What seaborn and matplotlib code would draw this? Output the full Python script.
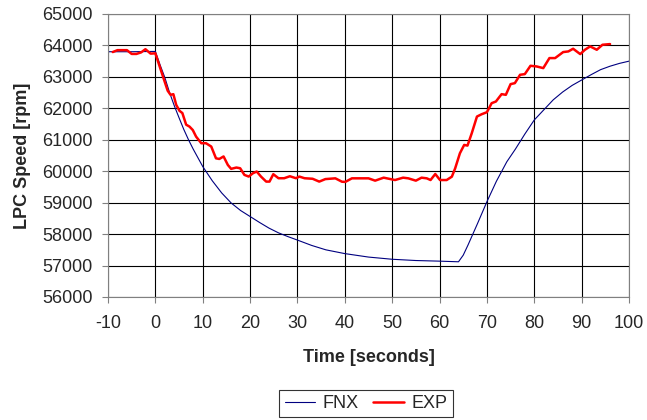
import numpy as np
import pandas as pd
import matplotlib
matplotlib.use("Agg")
import matplotlib.pyplot as plt
import seaborn as sns
from matplotlib.lines import Line2D

# FNX model (smooth curve)
fnx_t = [-10, -5, 0, 1, 2, 3, 4, 5, 6, 7, 8, 10, 12, 14, 16, 18, 20, 22, 24, 26, 28,
         30, 33, 36, 40, 45, 50, 55, 60, 64, 65, 66, 68, 70, 72, 74.2, 76, 78, 80, 82,
         84, 86, 88, 90, 92, 94, 96, 98, 100]
fnx_v = [63800, 63800, 63810, 63380, 62980, 62500, 62080, 61700, 61330, 61000, 60700,
         60150, 59700, 59310, 58990, 58750, 58560, 58370, 58190, 58040, 57920, 57810,
         57640, 57500, 57380, 57270, 57200, 57160, 57140, 57120, 57330, 57650, 58330,
         59030, 59680, 60300, 60700, 61180, 61630, 61950, 62270, 62520, 62730, 62900,
         63070, 63230, 63340, 63430, 63500]

# EXP measured (jagged)
exp_t = [-9, -8, -6, -5, -4, -3, -2.1, -1.0, 0, 1.6, 2.6, 3.2, 3.8, 4.4, 5.1, 5.7, 6.5,
         7.2, 7.9, 8.6, 9.7, 10.7, 11.8, 12.8, 13.5, 14.4, 15.3, 16.0, 17.1, 17.9, 18.8,
         19.7, 20.6, 21.4, 22.3, 23.4, 24.1, 24.9, 26.0, 27.2, 28.4, 29.7, 30.4, 31.5,
         33.2, 34.6, 35.9, 38.0, 39.4, 40.1, 41.5, 45.0, 46.4, 48.2, 50.6, 52.3, 53.4,
         55.0, 56.2, 57.3, 58.1, 59.1, 60.1, 61.5, 62.6, 63.3, 64.3, 65.2, 65.9, 66.8,
         67.9, 68.9, 70.0, 71.0, 71.9, 73.1, 74.0, 75.0, 75.9, 77.0, 78.0, 79.2, 80.5,
         81.9, 83.2, 84.4, 86.1, 87.2, 88.2, 89.7, 90.7, 91.8, 93.2, 94.4, 96.0]
exp_v = [63790, 63850, 63850, 63730, 63730, 63780, 63880, 63740, 63750, 63015, 62560,
         62430, 62450, 62110, 61920, 61850, 61480, 61420, 61310, 61100, 60890, 60890,
         60785, 60410, 60390, 60470, 60200, 60075, 60117, 60095, 59883, 59830, 59936,
         59990, 59830, 59670, 59670, 59905, 59777, 59777, 59840, 59777, 59830, 59777,
         59760, 59670, 59750, 59774, 59666, 59660, 59774, 59774, 59700, 59795, 59720,
         59795, 59774, 59700, 59795, 59774, 59720, 59911, 59720, 59720, 59827, 60093,
         60571, 60836, 60815, 61208, 61739, 61813, 61877, 62164, 62217, 62451, 62430,
         62770, 62801, 63067, 63088, 63353, 63332, 63279, 63598, 63598, 63789, 63810,
         63895, 63725, 63863, 63969, 63863, 64022, 64043]

df = pd.concat([
    pd.DataFrame({"t": fnx_t, "v": fnx_v, "s": "FNX"}),
    pd.DataFrame({"t": exp_t, "v": exp_v, "s": "EXP"}),
])

sns.set_style("white")
plt.rcParams["font.family"] = ["Liberation Sans", "DejaVu Sans"]
plt.rcParams["axes.unicode_minus"] = False

fig = plt.figure(figsize=(6.47, 4.2), dpi=100)
ax = fig.add_axes([108 / 647, 1 - 297 / 420, (629 - 108) / 647, (297 - 14) / 420])

sns.lineplot(data=df, x="t", y="v", hue="s", size="s",
             palette={"FNX": "#000080", "EXP": "#ff0000"},
             sizes={"FNX": 0.8, "EXP": 1.8}, sort=False, ax=ax, legend=False)

ax.set_xlim(-10, 100)
ax.set_ylim(56000, 65000)
ax.set_xticks(range(-10, 101, 10))
ax.set_yticks(range(56000, 65001, 1000))
ax.grid(True, color="black", linewidth=0.8)
for sp in ax.spines.values():
    sp.set_color("#808080")
    sp.set_linewidth(0.8)
ax.tick_params(axis="both", direction="out", length=4, width=0.8, color="#808080",
               labelsize=13, bottom=True, left=True)
ax.tick_params(axis="x", pad=9)
ax.tick_params(axis="y", pad=7)

ax.set_xlabel("Time [seconds]", fontsize=13, fontweight="bold", labelpad=12)
ax.set_ylabel("LPC Speed [rpm]", fontsize=13, fontweight="bold", labelpad=8)

handles = [Line2D([], [], color="#000080", lw=0.8), Line2D([], [], color="#ff0000", lw=1.8)]
leg = fig.legend(handles, ["FNX", "EXP"], loc="center", bbox_to_anchor=(366 / 647, 1 - 403.5 / 420),
                 ncol=2, fontsize=13, frameon=True, fancybox=False, handlelength=1.7,
                 handletextpad=0.4, columnspacing=0.8, borderpad=0.3, borderaxespad=0)
leg.get_frame().set_edgecolor("black")
leg.get_frame().set_linewidth(0.8)

fig.savefig("out.png", dpi=100)
